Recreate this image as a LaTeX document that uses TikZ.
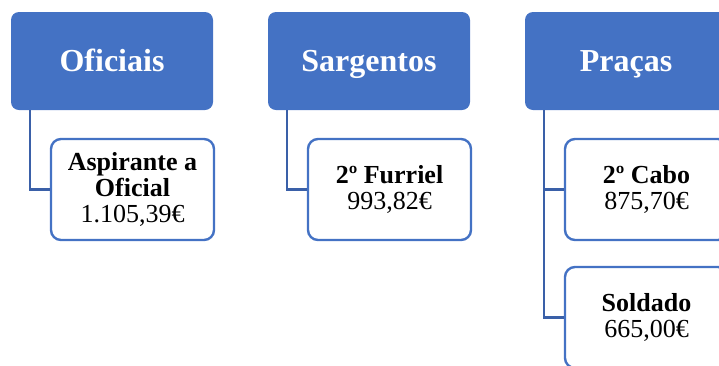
\documentclass[tikz,border=0pt]{standalone}
\usepackage{fontspec}
\setmainfont{Liberation Serif}
\definecolor{hdrblue}{HTML}{4472C4}
\definecolor{linkblue}{HTML}{3A60A8}
\begin{document}
\begin{tikzpicture}[x=1pt,y=1pt,
  header/.style={fill=hdrblue, draw=none, rounded corners=8pt, minimum width=202pt, minimum height=98pt,
    text=white, font=\fontsize{32}{34}\selectfont\bfseries, inner sep=0pt, text height=21pt, text depth=0pt},
  child/.style={fill=white, draw=hdrblue, line width=2.4pt, rounded corners=10pt,
    minimum width=163pt, minimum height=101pt, align=center,
    font=\fontsize{26}{26}\selectfont, inner sep=0pt},
  link/.style={draw=linkblue, line width=2.6pt}]
\useasboundingbox (0,0) rectangle (719,-365);
\clip (0,0) rectangle (719,-365);
\node[header] (o) at (112,-61) {Oficiais};
\node[header] (s) at (369,-61) {Sargentos};
\node[header] (p) at (626,-61) {Praças};
\node[child] (a) at (132.5,-189.5) {\textbf{Aspirante a}\\\textbf{Oficial}\\1.105,39€};
\node[child] (f) at (389.5,-189.5) {\textbf{2º Furriel}\\993,82€};
\node[child] (c) at (646.5,-189.5) {\textbf{2º Cabo}\\875,70€};
\node[child] (d) at (646.5,-317.5) {\textbf{Soldado}\\665,00€};
\coordinate (oc) at ([xshift=19pt]o.south west);
\coordinate (sc) at ([xshift=19pt]s.south west);
\coordinate (pc) at ([xshift=19pt]p.south west);
\draw[link] (oc) |- (a.west);
\draw[link] (sc) |- (f.west);
\draw[link] (pc) |- (c.west);
\draw[link] (pc) |- (d.west);
\end{tikzpicture}
\end{document}
